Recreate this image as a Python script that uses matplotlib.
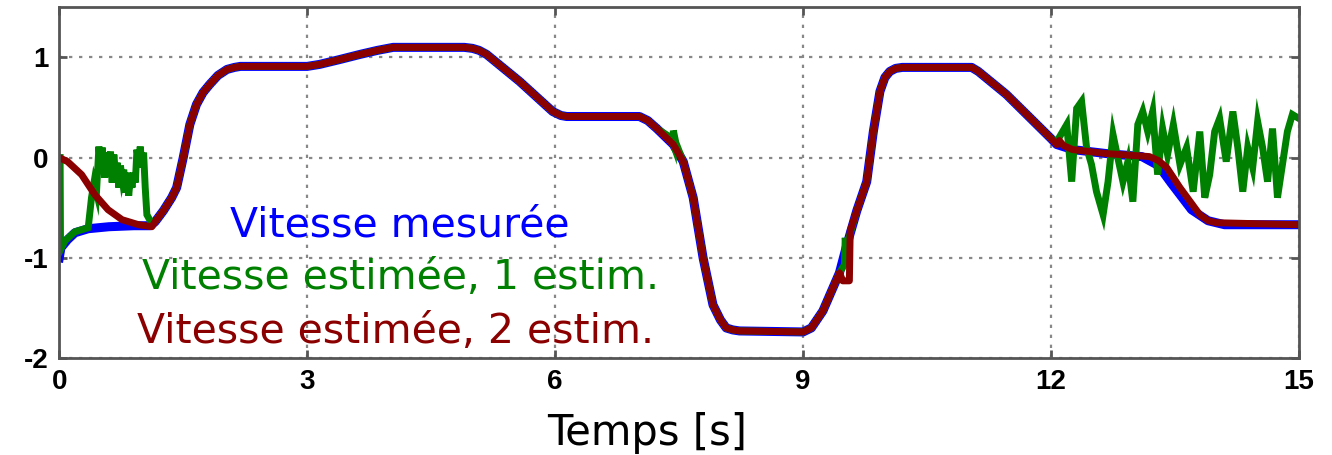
import matplotlib
matplotlib.use("Agg")
import matplotlib.pyplot as plt
import numpy as np

plt.rcParams["axes.unicode_minus"] = False

# measured speed (blue)
t_mes = [0.0, 0.02, 0.1, 0.19, 0.35, 0.6, 0.9, 1.1, 1.16, 1.26, 1.36, 1.42, 1.5, 1.58,
         1.66, 1.74, 1.82, 1.92, 2.03, 2.12, 2.19, 3.0, 3.15, 3.4, 3.64, 3.85, 4.04, 4.9,
         5.0, 5.08, 5.17, 5.57, 5.97, 6.07, 6.14, 6.21, 7.02, 7.12, 7.23, 7.43, 7.55,
         7.67, 7.79, 7.91, 8.0, 8.07, 8.15, 8.23, 9.0, 9.1, 9.24, 9.44, 9.52, 9.65, 9.77,
         9.85, 9.93, 9.99, 10.05, 10.12, 10.2, 11.04, 11.12, 11.46, 12.0, 12.07, 12.26,
         12.67, 13.1, 13.3, 13.45, 13.7, 13.9, 14.1, 15.0]
v_mes = [-1.0, -0.9, -0.82, -0.75, -0.71, -0.69, -0.68, -0.68, -0.64, -0.53, -0.40, -0.30,
         0.0, 0.33, 0.53, 0.65, 0.73, 0.82, 0.88, 0.90, 0.91, 0.91, 0.93, 0.98, 1.03, 1.07,
         1.10, 1.10, 1.09, 1.07, 1.03, 0.76, 0.46, 0.42, 0.41, 0.41, 0.41, 0.37, 0.29,
         0.13, -0.04, -0.40, -1.0, -1.47, -1.62, -1.70, -1.72, -1.73, -1.74, -1.70, -1.53,
         -1.15, -0.9, -0.53, -0.24, 0.26, 0.66, 0.80, 0.86, 0.89, 0.90, 0.90, 0.86, 0.63,
         0.19, 0.13, 0.08, 0.04, 0.01, -0.08, -0.25, -0.52, -0.63, -0.67, -0.67]

# estimate with 2 estimators (dark red)
t_est2_start = [0.0, 0.1, 0.27, 0.43, 0.59, 0.76, 0.96, 1.12]
v_est2_start = [0.0, -0.04, -0.17, -0.37, -0.52, -0.62, -0.67, -0.69]
t_est2_mid = [9.44, 9.48, 9.56, 9.57, 9.65]
v_est2_mid = [-1.15, -1.23, -1.23, -0.73, -0.53]
t_est2_end = [12.0, 12.07, 12.1, 12.15, 12.26, 12.67, 13.19, 13.3, 13.4, 13.56, 13.8,
              13.9, 14.0, 15.0]
v_est2_end = [0.19, 0.13, 0.17, 0.12, 0.08, 0.04, 0.01, -0.03, -0.1, -0.30, -0.57,
              -0.63, -0.65, -0.67]

# estimate with 1 estimator (green)
t_est1_start = [0.0, 0.01, 0.015, 0.07, 0.19, 0.35, 0.39, 0.42, 0.45, 0.48, 0.50, 0.52,
                0.55, 0.57, 0.60, 0.62, 0.64, 0.66, 0.68, 0.70, 0.72, 0.74, 0.76, 0.78,
                0.80, 0.82, 0.84, 0.86, 0.88, 0.90, 0.92, 0.94, 0.96, 0.98, 1.00, 1.02,
                1.04, 1.06, 1.12]
v_est1_start = [0.0, 0.0, -0.92, -0.83, -0.74, -0.70, -0.40, -0.25, -0.35, 0.11, -0.10,
                0.10, -0.20, 0.05, -0.10, 0.06, -0.25, 0.03, -0.15, -0.05, -0.30, -0.08,
                -0.20, -0.12, -0.35, -0.15, -0.38, -0.20, -0.30, -0.15, -0.25, 0.08,
                -0.05, 0.11, -0.10, 0.05, -0.30, -0.57, -0.66]
t_est1_spike = [7.40, 7.43, 7.46, 9.50, 9.51, 9.52]
v_est1_spike = [0.2, 0.27, 0.15, -1.07, -0.8, -0.9]
t_est1_end = [12.07, 12.19, 12.25, 12.31, 12.37, 12.43, 12.49, 12.55, 12.63, 12.69, 12.75,
              12.81, 12.87, 12.93, 12.99, 13.05, 13.11, 13.17, 13.23, 13.29, 13.35, 13.41,
              13.48, 13.56, 13.64, 13.72, 13.80, 13.86, 13.92, 13.98, 14.04, 14.12, 14.20,
              14.26, 14.32, 14.38, 14.44, 14.50, 14.56, 14.62, 14.68, 14.74, 14.80, 14.86,
              14.92, 15.0]
v_est1_end = [0.16, 0.33, -0.24, 0.49, 0.56, 0.10, -0.07, -0.34, -0.57, -0.24, 0.23, -0.01,
              -0.24, -0.04, -0.44, 0.33, 0.46, 0.26, 0.46, -0.17, 0.29, 0.03, 0.33, -0.07,
              0.10, -0.34, 0.26, -0.40, -0.17, 0.26, 0.39, -0.04, 0.46, 0.10, -0.34, 0.10,
              -0.10, 0.36, 0.10, -0.24, 0.29, -0.40, -0.07, 0.26, 0.43, 0.39]

labels = ["Vitesse mesurée", "Vitesse estimée, 1 estim.", "Vitesse estimée, 2 estim."]
c_mes, c_est1, c_est2 = "#0000ff", "#008000", "#8b0000"

t_mes = np.array(t_mes)
v_mes = np.array(v_mes)

# red = own start/end + measured in between
m = (t_mes > 1.13) & (t_mes < 12.0) & ((t_mes < 9.44) | (t_mes > 9.65))
t_est2 = np.concatenate([t_est2_start, t_mes[m], t_est2_mid, t_est2_end])
v_est2 = np.concatenate([v_est2_start, v_mes[m], v_est2_mid, v_est2_end])
o = np.argsort(t_est2, kind="stable")
t_est2, v_est2 = t_est2[o], v_est2[o]

# green = own start/end + measured in between + small spikes
m1 = (t_mes > 1.13) & (t_mes < 12.07)
t_est1 = np.concatenate([t_est1_start, t_mes[m1], t_est1_spike, t_est1_end])
v_est1 = np.concatenate([v_est1_start, v_mes[m1], v_est1_spike, v_est1_end])
o = np.argsort(t_est1, kind="stable")
t_est1, v_est1 = t_est1[o], v_est1[o]

fig = plt.figure(figsize=(13.32, 4.55), dpi=100)
ax = fig.add_axes([0.0445, 0.2132, 0.9307, 0.7708])

ax.plot(t_mes, v_mes, color=c_mes, lw=6.5, solid_joinstyle="round")
ax.plot(t_est1, v_est1, color=c_est1, lw=5, solid_joinstyle="miter")
ax.plot(t_est2, v_est2, color=c_est2, lw=5, solid_joinstyle="round")

ax.set_xlim(0, 15)
ax.set_ylim(-2, 1.5)
ax.set_xticks([0, 3, 6, 9, 12, 15])
ax.set_yticks([-2, -1, 0, 1])
ax.grid(True, color="#888888", linestyle=(0, (1.5, 3)), linewidth=1.6)
ax.tick_params(direction="in", length=6, width=2, color="#555555", top=True, right=True,
               labelsize=20, pad=8)
for lab in ax.get_xticklabels() + ax.get_yticklabels():
    lab.set_fontfamily("Liberation Sans")
    lab.set_fontweight("bold")
for s in ax.spines.values():
    s.set_color("#555555")
    s.set_linewidth(2)

ax.text(0.275, 0.345, labels[0], color=c_mes, fontsize=29.5, ha="center", va="baseline",
        transform=ax.transAxes)
ax.text(0.275, 0.197, labels[1], color=c_est1, fontsize=29.5, ha="center", va="baseline",
        transform=ax.transAxes)
ax.text(0.271, 0.043, labels[2], color=c_est2, fontsize=29.5, ha="center", va="baseline",
        transform=ax.transAxes)

fig.text(0.486, 0.022, "Temps [s]", fontsize=30, ha="center", va="baseline")

fig.savefig("out.png", dpi=100)
